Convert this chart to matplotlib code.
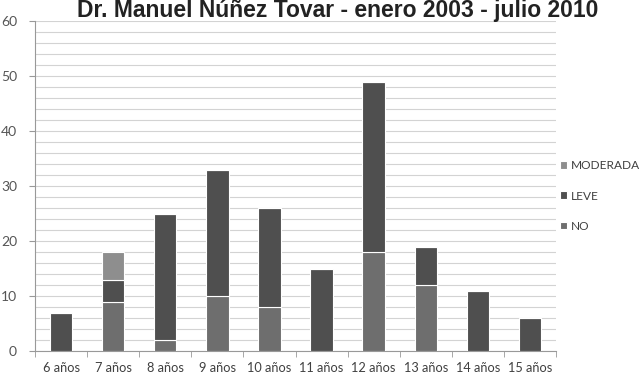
import numpy as np
import matplotlib
matplotlib.use('Agg')
import matplotlib.pyplot as plt
from matplotlib.ticker import MultipleLocator, FixedLocator

# edades y casos por grado
edades = ['6 años', '7 años', '8 años', '9 años', '10 años',
          '11 años', '12 años', '13 años', '14 años', '15 años']
no_vals = [0, 9, 2, 10, 8, 0, 18, 12, 0, 0]
leve_vals = [7, 4, 23, 23, 18, 15, 31, 7, 11, 6]
moderada_vals = [0, 5, 0, 0, 0, 0, 0, 0, 0, 0]
titulo = 'Dr. Manuel Núñez Tovar - enero 2003 - julio 2010'

plt.rcParams['font.family'] = ['Lato', 'DejaVu Sans']

fig = plt.figure(figsize=(6.44, 3.81), dpi=100)
ax = fig.add_axes([35 / 644, 1 - 351 / 381, 521 / 644, 330 / 381])

x = np.arange(len(edades))
w = 0.43
no = np.array(no_vals)
leve = np.array(leve_vals)
mod = np.array(moderada_vals)

ax.bar(x, no, w, color='#6e6e6e', edgecolor='white', linewidth=0.8, label='NO', zorder=3)
ax.bar(x, leve, w, bottom=no, color='#4f4f4f', edgecolor='white', linewidth=0.8, label='LEVE', zorder=3)
ax.bar(x, mod, w, bottom=no + leve, color='#8e8e8e', edgecolor='white', linewidth=0.8, label='MODERADA', zorder=3)

ax.set_xlim(-0.5, len(edades) - 0.5)
ax.set_ylim(0, 60)
ax.yaxis.set_major_locator(MultipleLocator(10))
ax.yaxis.set_minor_locator(MultipleLocator(2))
ax.grid(axis='y', which='both', color='#d3d3d3', linewidth=0.8, zorder=0)

ax.set_xticks(x)
ax.set_xticklabels(edades, fontsize=9.2, color='#404040')
ax.xaxis.set_minor_locator(FixedLocator(np.arange(-0.5, len(edades), 1.0)))
ax.tick_params(axis='x', which='major', length=0, pad=8)
ax.tick_params(axis='x', which='minor', length=4, color='#999999')
ax.tick_params(axis='y', which='major', length=4, color='#999999', labelsize=10, labelcolor='#555555', pad=9)
ax.tick_params(axis='y', which='minor', length=0)

for s in ['top', 'right']:
    ax.spines[s].set_visible(False)
for s in ['left', 'bottom']:
    ax.spines[s].set_color('#999999')
    ax.spines[s].set_linewidth(0.8)

h, l = ax.get_legend_handles_labels()
ax.legend(h[::-1], l[::-1], loc='center left', bbox_to_anchor=(549 / 644, 1 - 196 / 381),
          bbox_transform=fig.transFigure, frameon=False, fontsize=8.6,
          handlelength=0.6, handleheight=0.6, handletextpad=0.35, labelspacing=1.6,
          labelcolor='#404040')

fig.text(338 / 644, 1 - 17 / 381, titulo, fontsize=16.5, fontweight='bold',
         family='Liberation Sans', color='#222222', va='baseline', ha='center')

fig.savefig('out.png', dpi=100)
